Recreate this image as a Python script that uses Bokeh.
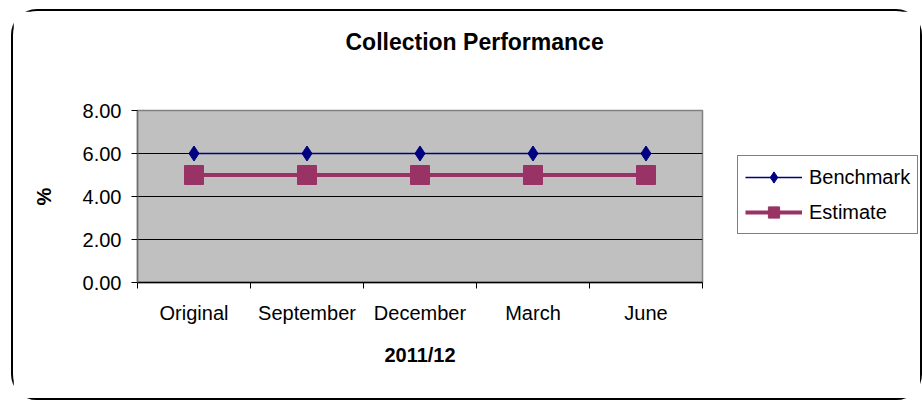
from bokeh.plotting import figure
from bokeh.models import FixedTicker, Legend, LegendItem, Range1d, Title
from bokeh.layouts import row
from bokeh.embed import file_html
from bokeh.resources import INLINE
import numpy as np

categories = ["Original", "September", "December", "March", "June"]
benchmark = [6.0, 6.0, 6.0, 6.0, 6.0]
estimate = [5.0, 5.0, 5.0, 5.0, 5.0]
y_ticks = [0, 2, 4, 6, 8]

FONT = "Liberation Sans"
NAVY = "#000080"
PLUM = "#993366"
WM, WL, H = 702, 205, 387

p = figure(width=WM, height=H, output_backend="svg", toolbar_location=None,
           x_range=Range1d(0, len(categories)), y_range=Range1d(0, 8),
           min_border_left=124, min_border_right=13, min_border_top=99,
           min_border_bottom=116)
p.border_fill_color = "white"
p.background_fill_color = "#C0C0C0"
p.outline_line_color = "#808080"
p.outline_line_width = 1.5

xs = np.arange(len(categories)) + 0.5

# axes
p.xaxis.ticker = FixedTicker(ticks=list(xs), minor_ticks=list(range(len(categories) + 1)))
p.xaxis.major_label_overrides = {float(x): c for x, c in zip(xs, categories)}
p.xaxis.major_tick_out = 0
p.xaxis.major_tick_in = 0
p.xaxis.minor_tick_out = 6
p.xaxis.minor_tick_in = 0
p.xaxis.minor_tick_line_color = "black"
p.xaxis.major_label_standoff = 13
p.xaxis.major_label_text_font = FONT
p.xaxis.major_label_text_font_size = "20px"
p.xaxis.major_label_text_color = "black"
p.xaxis.axis_line_color = "black"
p.xaxis.axis_line_width = 1.5
p.xaxis.axis_label = "2011/12"
p.xaxis.axis_label_text_font = FONT
p.xaxis.axis_label_text_font_size = "20px"
p.xaxis.axis_label_text_font_style = "bold"
p.xaxis.axis_label_text_color = "black"
p.xaxis.axis_label_standoff = 17

p.yaxis.ticker = FixedTicker(ticks=y_ticks)
p.yaxis.major_label_overrides = {t: f"{t:.2f}" for t in y_ticks}
p.yaxis.major_tick_out = 6
p.yaxis.major_tick_in = 0
p.yaxis.minor_tick_out = 0
p.yaxis.minor_tick_in = 0
p.yaxis.major_label_standoff = 10
p.yaxis.major_label_text_font = FONT
p.yaxis.major_label_text_font_size = "20px"
p.yaxis.major_label_text_color = "black"
p.yaxis.axis_line_color = "#707070"
p.yaxis.axis_line_width = 1.5
p.yaxis.axis_label = "%"
p.yaxis.axis_label_text_font = FONT
p.yaxis.axis_label_text_font_size = "20px"
p.yaxis.axis_label_text_font_style = "bold"
p.yaxis.axis_label_text_color = "black"
p.yaxis.axis_label_standoff = 25

p.xgrid.grid_line_color = None
p.ygrid.ticker = FixedTicker(ticks=y_ticks[1:])
p.ygrid.grid_line_color = "black"
p.ygrid.grid_line_width = 1

# title: two blank trailing lines lift the text to the top of the chart area
p.title = Title(text="Collection Performance\n \n ", align="left", offset=208,
                text_font=FONT, text_font_size="23px", text_font_style="bold",
                text_color="black", vertical_align="top", standoff=4)

# series
b_line = p.line(xs, benchmark, line_color=NAVY, line_width=1.5)
b_mark = p.scatter(xs, benchmark, marker="diamond", size=15,
                   fill_color=NAVY, line_color=NAVY)
e_line = p.line(xs, estimate, line_color=PLUM, line_width=4)
e_mark = p.scatter(xs, estimate, marker="square", size=19,
                   fill_color=PLUM, line_color=PLUM)

# legend panel: a frame-only figure whose ranges keep its copies of the series out of view
pl = figure(width=WL, height=H, output_backend="svg", toolbar_location=None,
            x_axis_type=None, y_axis_type=None, min_border=0,
            x_range=Range1d(100, 101), y_range=Range1d(100, 101))
pl.outline_line_color = None
pl.border_fill_color = "white"
pl.background_fill_color = "white"
pl.grid.grid_line_color = None
lb_line = pl.line(xs, benchmark, line_color=NAVY, line_width=1.5)
lb_mark = pl.scatter(xs, benchmark, marker="diamond", size=15,
                     fill_color=NAVY, line_color=NAVY)
le_line = pl.line(xs, estimate, line_color=PLUM, line_width=4)
le_mark = pl.scatter(xs, estimate, marker="square", size=19,
                     fill_color=PLUM, line_color=PLUM)

legend = Legend(items=[LegendItem(label="Benchmark", renderers=[lb_line, lb_mark]),
                       LegendItem(label="Estimate", renderers=[le_line, le_mark])],
                location=(22, 48))
legend.label_text_font = FONT
legend.label_text_font_size = "20px"
legend.label_text_color = "black"
legend.glyph_width = 57
legend.glyph_height = 28
legend.label_standoff = 7
legend.padding = 7
legend.spacing = 7
legend.margin = 0
legend.border_line_color = "black"
legend.border_line_width = 1
legend.background_fill_color = "white"
legend.background_fill_alpha = 1
pl.add_layout(legend, "center")

layout = row(p, pl)
layout.styles = {"margin-left": "11px", "margin-top": "9px",
                 "border": "2px solid black", "border-radius": "26px",
                 "background-color": "white"}

open("out.html", "w").write(file_html(layout, INLINE))
